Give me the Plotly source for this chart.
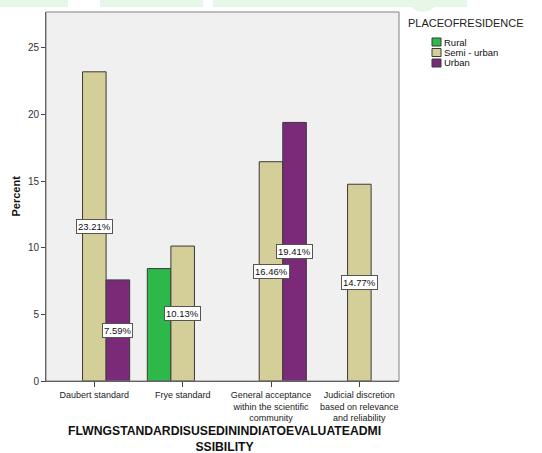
import plotly.graph_objects as go

categories = ["Daubert standard", "Frye standard",
              "General acceptance<br>within the scientific<br>community",
              "Judicial discretion<br>based on relevance<br>and reliability"]
series_names = ["Rural", "Semi - urban", "Urban"]
rural = [None, 8.44, None, None]
semi_urban = [23.21, 10.13, 16.46, 14.77]
urban = [7.59, None, 19.41, None]
labelled = [False, True, True]  # which series show value labels
colors = ["#2DB84A", "#D4CF98", "#7B2A7A"]
legend_title = "PLACEOFRESIDENCE"
x_title = "FLWNGSTANDARDISUSEDININDIATOEVALUATEADMI<br>SSIBILITY"
y_title = "Percent"

series = [rural, semi_urban, urban]
xpos = list(range(len(categories)))
font_family = "Arial, Liberation Sans, sans-serif"

# page geometry (pixels)
W, H = 542, 453
L, R, T, B = 46, 143, 12, 72
PW, PH = W - L - R, H - T - B


def px(xp):
    return (xp - L) / PW


def py(yp):
    return (H - B - yp) / PH


fig = go.Figure()
for name, vals, col in zip(series_names, series, colors):
    fig.add_trace(go.Bar(
        x=xpos, y=vals, name=name,
        marker=dict(color=col, line=dict(color="#3a3a3a", width=1)),
        showlegend=False, hoverinfo="skip",
    ))

bargap = 0.2
bw = (1 - bargap) / len(series)
annotations = []
for si, (vals, show) in enumerate(zip(series, labelled)):
    if not show:
        continue
    off = (si - (len(series) - 1) / 2) * bw
    for i, v in enumerate(vals):
        if v is None:
            continue
        annotations.append(dict(
            x=i + off, y=v / 2, xref="x", yref="y",
            text=f"{v:.2f}%", showarrow=False,
            font=dict(size=9.5, color="#111", family=font_family),
            bgcolor="white", bordercolor="#555", borderwidth=1, borderpad=1,
        ))

# x axis title
annotations.append(dict(
    x=px(224), xref="paper", y=py(422), yref="paper", xanchor="center", yanchor="top",
    text=f"<b>{x_title}</b>", showarrow=False,
    font=dict(size=12.2, color="#111", family=font_family),
))
# y axis title
annotations.append(dict(
    x=px(15), xref="paper", y=0.5, yref="paper", xanchor="center", yanchor="middle",
    textangle=-90, text=f"<b>{y_title}</b>", showarrow=False,
    font=dict(size=11, color="#111", family=font_family),
))

shapes = []
# legend (drawn manually to match the compact layout)
annotations.append(dict(
    x=px(406), xref="paper", y=py(23), yref="paper", xanchor="left", yanchor="middle",
    text=legend_title, showarrow=False, font=dict(size=11, color="#222", family=font_family),
))
for k, (name, col) in enumerate(zip(series_names, colors)):
    yc = 42 + k * 10.5
    shapes.append(dict(type="rect", xref="paper", yref="paper",
                       x0=px(432), x1=px(441), y0=py(yc + 4), y1=py(yc - 4),
                       fillcolor=col, line=dict(color="#3a3a3a", width=1)))
    annotations.append(dict(
        x=px(442), xref="paper", y=py(yc), yref="paper", xanchor="left", yanchor="middle",
        text=name, showarrow=False, font=dict(size=9.5, color="#111", family=font_family),
    ))

# faint watermark band at the top of the page
for x0, x1 in [(0, 68), (100, 203), (213, 467)]:
    shapes.append(dict(type="rect", xref="paper", yref="paper",
                       x0=px(x0), x1=px(x1), y0=py(7), y1=py(0),
                       fillcolor="#E6F7E8", line=dict(width=0), layer="below"))
shapes.append(dict(type="circle", xref="paper", yref="paper",
                   x0=px(410), x1=px(436), y0=py(12), y1=py(-8),
                   fillcolor="#E6F7E8", line=dict(width=0), layer="below"))
# plot frame
shapes.append(dict(type="rect", xref="paper", yref="paper", x0=0, x1=1, y0=0, y1=1,
                   line=dict(color="#808080", width=1), fillcolor="rgba(0,0,0,0)"))

fig.update_layout(
    width=W, height=H,
    margin=dict(l=L, r=R, t=T, b=B, autoexpand=False),
    paper_bgcolor="white", plot_bgcolor="#F0F0F0",
    barmode="group", bargap=bargap, bargroupgap=0,
    font=dict(family=font_family, size=9, color="#222"),
    showlegend=False,
    annotations=annotations,
    shapes=shapes,
    xaxis=dict(
        tickmode="array", tickvals=xpos, ticktext=categories,
        range=[-0.547, 3.449], showgrid=False, zeroline=False,
        showline=True, linecolor="#444", linewidth=1,
        ticks="outside", ticklen=5, tickcolor="#444",
        tickfont=dict(size=9, color="#222"), automargin=False,
    ),
    yaxis=dict(
        range=[0, 27.7], tickvals=[0, 5, 10, 15, 20, 25],
        showgrid=False, zeroline=False,
        showline=True, linecolor="#444", linewidth=1,
        ticks="outside", ticklen=4, tickcolor="#444",
        tickfont=dict(size=10, color="#333"), automargin=False,
    ),
)

fig.write_html("out.html", config={"displayModeBar": False},
               post_script="document.body.style.margin='0';document.body.style.overflow='hidden';")
